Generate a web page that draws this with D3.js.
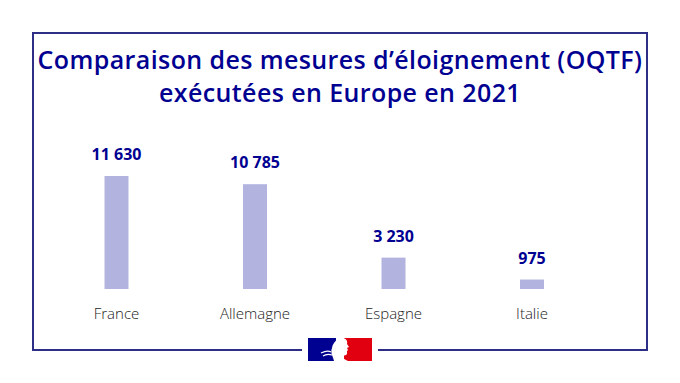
<!DOCTYPE html>
<html>
<head>
<meta charset="utf-8">
<script src="https://cdn.jsdelivr.net/npm/d3@7"></script>
<style>
  body { margin: 0; background: #fff; }
  svg { display: block; }
</style>
</head>
<body>
<svg id="chart"></svg>
<script>
var titleLines = ["Comparaison des mesures d\u2019\u00e9loignement (OQTF)", "ex\u00e9cut\u00e9es en Europe en 2021"];
var countries = ["France", "Allemagne", "Espagne", "Italie"];
var expulsions = [11630, 10785, 3230, 975];

var screen = { width: 680, height: 383 };
var frame = { left: 33, top: 33, right: 647, bottom: 350 };
var navy = "#000091";
var barColor = "#b3b3e0";
var barWidth = 24;
var baseline = 289;

var frLocale = d3.formatLocale({ decimal: ",", thousands: "\u2009", grouping: [3], currency: ["", " €"] });
var fmt = function(v) { return frLocale.format(",")(v).replace("\u2009", " "); };

var svg = d3.select("#chart")
  .attr("width", screen.width)
  .attr("height", screen.height);

svg.append("rect")
  .attr("x", frame.left)
  .attr("y", frame.top)
  .attr("width", frame.right - frame.left)
  .attr("height", frame.bottom - frame.top)
  .attr("fill", "white")
  .style("stroke", "#2e2e86")
  .style("stroke-width", 2);

// title
svg.append("g")
  .selectAll("text")
  .data(titleLines)
  .enter()
  .append("text")
  .attr("x", screen.width / 2)
  .attr("y", function(d, i) { return 69 + i * 33; })
  .attr("text-anchor", "middle")
  .attr("font-family", "'Open Sans', sans-serif")
  .attr("font-weight", 600)
  .attr("font-size", 25)
  .attr("letter-spacing", 0.4)
  .attr("fill", navy)
  .text(function(d) { return d; });

var xScale = d3.scalePoint()
  .domain(countries)
  .range([116.5, 532]);

var yScale = d3.scaleLinear()
  .domain([0, 11630])
  .range([baseline, 176]);

var bars = svg.append("g").classed("bars", true);

bars.selectAll("rect")
  .data(expulsions)
  .enter()
  .append("rect")
  .attr("x", function(d, i) { return xScale(countries[i]) - barWidth / 2; })
  .attr("y", function(d) { return yScale(d); })
  .attr("width", barWidth)
  .attr("height", function(d) { return baseline - yScale(d); })
  .attr("fill", barColor);

bars.selectAll("text.value")
  .data(expulsions)
  .enter()
  .append("text")
  .classed("value", true)
  .attr("x", function(d, i) { return xScale(countries[i]); })
  .attr("y", function(d) { return yScale(d) - 16; })
  .attr("text-anchor", "middle")
  .attr("font-family", "'Open Sans', sans-serif")
  .attr("font-weight", 700)
  .attr("font-size", 16)
  .attr("fill", navy)
  .text(function(d) { return fmt(d); });

svg.append("g")
  .selectAll("text")
  .data(countries)
  .enter()
  .append("text")
  .attr("x", function(d) { return xScale(d); })
  .attr("y", 319)
  .attr("text-anchor", "middle")
  .attr("font-family", "'Open Sans', sans-serif")
  .attr("font-weight", 300)
  .attr("font-size", 15)
  .attr("fill", "#1a1a1a")
  .text(function(d) { return d; });

// Marianne logo on the bottom border
var logo = svg.append("g").attr("transform", "translate(308,338)");
logo.append("rect").attr("x", -6).attr("y", 8).attr("width", 76).attr("height", 8).attr("fill", "white");
logo.append("rect").attr("x", 0).attr("y", 0).attr("width", 28).attr("height", 23).attr("fill", navy);
logo.append("rect").attr("x", 36).attr("y", 0).attr("width", 28).attr("height", 23).attr("fill", "#e1000f");
logo.append("path")
  .attr("d", "M26,23 C25,18 22,15 24,10 C25,4 30,0 34,0 C38,0 40,3 39,6 L41,9 L39,10 L40,12 L39,13 L39,16 C38,18 35,17 34,18 C35,20 37,22 40,23 Z")
  .attr("fill", "white");
logo.append("path")
  .attr("d", "M13,15 C17,13 20,12 23,14 M15,18 C18,16 21,16 24,17")
  .attr("stroke", "white")
  .attr("stroke-width", 1.2)
  .attr("fill", "none");
</script>
</body>
</html>
